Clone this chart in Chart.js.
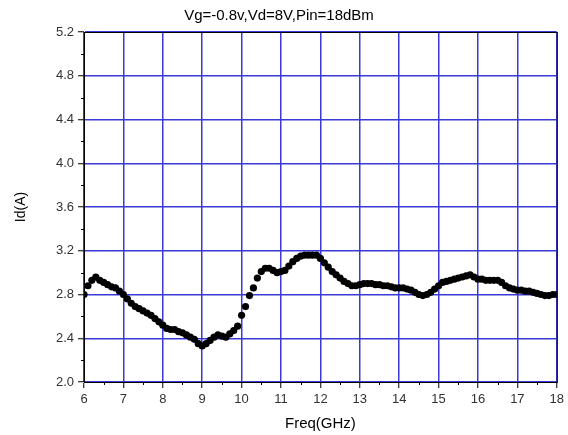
<!DOCTYPE html>
<html lang="en">
<head>
    <meta charset="UTF-8">
    <title>Id vs Freq</title>
    <style>
        body {
            margin: 0;
            background-color: #FFFFFF;
        }
        .chart-container {
            width: 568px;
            height: 435px;
            position: relative;
        }
    </style>
</head>
<body>
    <div class="chart-container">
        <canvas id="idChart"></canvas>
    </div>

    <script src="https://cdn.jsdelivr.net/npm/chart.js"></script>
    <script>
        // Frequency (GHz) and drain current (A)
        const freq = [
            6.0, 6.1, 6.2, 6.3, 6.4, 6.5, 6.6, 6.7, 6.8, 6.9,
            7.0, 7.1, 7.2, 7.3, 7.4, 7.5, 7.6, 7.7, 7.8, 7.9,
            8.0, 8.1, 8.2, 8.3, 8.4, 8.5, 8.6, 8.7, 8.8, 8.9,
            9.0, 9.1, 9.2, 9.3, 9.4, 9.5, 9.6, 9.7, 9.8, 9.9,
            10.0, 10.1, 10.2, 10.3, 10.4, 10.5, 10.6, 10.7, 10.8, 10.9,
            11.0, 11.1, 11.2, 11.3, 11.4, 11.5, 11.6, 11.7, 11.8, 11.9,
            12.0, 12.1, 12.2, 12.3, 12.4, 12.5, 12.6, 12.7, 12.8, 12.9,
            13.0, 13.1, 13.2, 13.3, 13.4, 13.5, 13.6, 13.7, 13.8, 13.9,
            14.0, 14.1, 14.2, 14.3, 14.4, 14.5, 14.6, 14.7, 14.8, 14.9,
            15.0, 15.1, 15.2, 15.3, 15.4, 15.5, 15.6, 15.7, 15.8, 15.9,
            16.0, 16.1, 16.2, 16.3, 16.4, 16.5, 16.6, 16.7, 16.8, 16.9,
            17.0, 17.1, 17.2, 17.3, 17.4, 17.5, 17.6, 17.7, 17.8, 17.9,
            18.0
        ];
        const idValues = [
            2.80, 2.88, 2.93, 2.96, 2.93, 2.91, 2.89, 2.87, 2.86, 2.83,
            2.80, 2.76, 2.72, 2.69, 2.67, 2.65, 2.63, 2.61, 2.58, 2.55,
            2.52, 2.49, 2.48, 2.48, 2.46, 2.45, 2.43, 2.41, 2.39, 2.35,
            2.33, 2.35, 2.38, 2.41, 2.43, 2.42, 2.41, 2.44, 2.47, 2.51,
            2.61, 2.69, 2.79, 2.86, 2.95, 3.01, 3.04, 3.04, 3.02, 3.00,
            3.01, 3.02, 3.06, 3.10, 3.13, 3.15, 3.16, 3.16, 3.16, 3.16,
            3.13, 3.09, 3.05, 3.01, 2.98, 2.95, 2.92, 2.90, 2.88, 2.88,
            2.89, 2.90, 2.90, 2.90, 2.89, 2.89, 2.88, 2.88, 2.87, 2.86,
            2.86, 2.86, 2.85, 2.84, 2.82, 2.80, 2.79, 2.80, 2.82, 2.85,
            2.88, 2.91, 2.92, 2.93, 2.94, 2.95, 2.96, 2.97, 2.98, 2.96,
            2.94, 2.94, 2.93, 2.93, 2.93, 2.93, 2.91, 2.88, 2.86, 2.85,
            2.84, 2.84, 2.83, 2.83, 2.82, 2.81, 2.80, 2.79, 2.79, 2.80,
            2.80
        ];
        const xTicks = [6, 7, 8, 9, 10, 11, 12, 13, 14, 15, 16, 17, 18];
        const yTicks = [2.0, 2.4, 2.8, 3.2, 3.6, 4.0, 4.4, 4.8, 5.2];

        const FONT = "'Liberation Sans', Arial, sans-serif";
        const GRID = '#3a3ad8';

        // black frame + minor ticks, like the Origin plot
        const framePlugin = {
            id: 'frame',
            afterDraw(chart) {
                const { ctx, chartArea: a, scales } = chart;
                ctx.save();
                ctx.strokeStyle = '#000';
                ctx.lineWidth = 1;
                ctx.strokeRect(a.left + 0.5, a.top + 0.5, a.right - a.left, a.bottom - a.top);
                ctx.beginPath();
                for (let v = 6.5; v < 18; v += 1) {
                    const x = Math.round(scales.x.getPixelForValue(v)) + 0.5;
                    ctx.moveTo(x, a.bottom);
                    ctx.lineTo(x, a.bottom + 3);
                }
                for (let v = 2.2; v < 5.2; v += 0.4) {
                    const y = Math.round(scales.y.getPixelForValue(v)) + 0.5;
                    ctx.moveTo(a.left, y);
                    ctx.lineTo(a.left - 3, y);
                }
                ctx.stroke();
                ctx.restore();
            }
        };

        const ctx = document.getElementById('idChart').getContext('2d');

        const config = {
            type: 'scatter',
            data: {
                datasets: [{
                    label: 'Id',
                    data: freq.map((f, i) => ({ x: f, y: idValues[i] })),
                    backgroundColor: '#000',
                    borderWidth: 0,
                    pointRadius: 3.6,
                    pointHoverRadius: 3.6
                }]
            },
            options: {
                responsive: true,
                maintainAspectRatio: false,
                animation: false,
                layout: { padding: { left: 0, right: 10, top: 0, bottom: 0 } },
                plugins: {
                    legend: { display: false },
                    tooltip: { enabled: false },
                    title: {
                        display: true,
                        text: 'Vg=-0.8v,Vd=8V,Pin=18dBm',
                        color: '#000',
                        font: { family: FONT, size: 15, weight: 'normal' },
                        padding: { top: 7, bottom: 7 }
                    }
                },
                scales: {
                    x: {
                        type: 'linear',
                        min: 6,
                        max: 18,
                        afterFit: s => { s.height = 53; },
                        afterBuildTicks: s => { s.ticks = xTicks.map(v => ({ value: v })); },
                        ticks: {
                            color: '#333',
                            font: { family: FONT, size: 13 },
                            padding: 4,
                            maxRotation: 0
                        },
                        grid: {
                            color: GRID,
                            lineWidth: 1.5,
                            tickColor: '#000',
                            tickWidth: 1,
                            tickLength: 6
                        },
                        border: { color: '#000' },
                        title: {
                            display: true,
                            text: 'Freq(GHz)',
                            color: '#000',
                            font: { family: FONT, size: 15 },
                            padding: { top: 0, bottom: 2 }
                        }
                    },
                    y: {
                        type: 'linear',
                        min: 2.0,
                        max: 5.2,
                        afterFit: s => { s.width = 84; },
                        afterBuildTicks: s => { s.ticks = yTicks.map(v => ({ value: v })); },
                        ticks: {
                            color: '#333',
                            font: { family: FONT, size: 13 },
                            padding: 4,
                            callback: v => v.toFixed(1)
                        },
                        grid: {
                            color: GRID,
                            lineWidth: 1.5,
                            tickColor: '#000',
                            tickWidth: 1,
                            tickLength: 6
                        },
                        border: { color: '#000' },
                        title: {
                            display: true,
                            text: 'Id(A)',
                            color: '#000',
                            font: { family: FONT, size: 14 },
                            padding: { top: 13, bottom: 0 }
                        }
                    }
                }
            },
            plugins: [framePlugin]
        };

        const idChart = new Chart(ctx, config);
    </script>
</body>
</html>
